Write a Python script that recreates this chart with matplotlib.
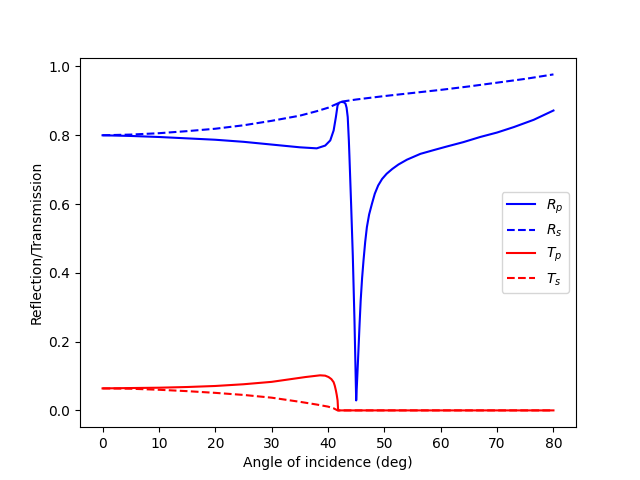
import matplotlib
matplotlib.use("Agg")
import matplotlib.pyplot as plt

# values
angle_rp = [0, 5, 10, 15, 20, 25, 30, 35, 38, 39.5, 40.4, 41.0, 41.4, 41.7, 42.0,
            42.4, 42.8, 43.1, 43.3, 43.5, 43.7, 43.8, 44.1, 44.4, 44.7, 45.0,
            45.2, 45.4, 45.6, 45.8, 46.05, 46.3, 46.6, 46.9, 47.3, 47.8, 48.3,
            48.9, 49.6, 50.4, 51.4, 52.5, 54, 56.4, 59, 61, 64, 67, 70, 73, 76.5, 80]
rp = [0.800, 0.798, 0.795, 0.791, 0.787, 0.781, 0.773, 0.765, 0.762, 0.770, 0.785,
      0.814, 0.853, 0.887, 0.895, 0.897, 0.896, 0.892, 0.880, 0.853, 0.785, 0.740,
      0.60, 0.45, 0.26, 0.029, 0.10, 0.174, 0.25, 0.32, 0.385, 0.436, 0.49, 0.533,
      0.57, 0.601, 0.63, 0.654, 0.673, 0.688, 0.702, 0.715, 0.729, 0.746, 0.758,
      0.767, 0.780, 0.795, 0.808, 0.824, 0.845, 0.872]

angle_rs = [0, 5, 10, 15, 20, 25, 30, 35, 38, 40, 41.8, 42.5, 45, 50, 55, 60, 65, 70, 75, 80]
rs = [0.800, 0.802, 0.806, 0.812, 0.819, 0.829, 0.842, 0.857, 0.870, 0.880, 0.893,
      0.898, 0.904, 0.914, 0.923, 0.932, 0.942, 0.953, 0.964, 0.977]

angle_tp = [0, 5, 10, 15, 20, 25, 30, 33, 36, 38.6, 39.5, 40.1, 40.6, 41.0, 41.2,
            41.4, 41.55, 41.7, 41.8, 50, 60, 70, 80]
tp = [0.064, 0.065, 0.066, 0.068, 0.071, 0.076, 0.083, 0.090, 0.097, 0.102, 0.101,
      0.097, 0.091, 0.082, 0.072, 0.058, 0.045, 0.029, 0.0, 0.0, 0.0, 0.0, 0.0]

angle_ts = [0, 5, 10, 15, 20, 25, 30, 35, 38, 40, 41.0, 41.7, 50, 60, 70, 80]
ts = [0.064, 0.063, 0.060, 0.056, 0.051, 0.045, 0.037, 0.025, 0.017, 0.011, 0.006,
      0.0, 0.0, 0.0, 0.0, 0.0]

fig = plt.figure(figsize=(6.4, 4.8), dpi=100)
plt.plot(angle_rp, rp, 'b-', label='$R_p$')
plt.plot(angle_rs, rs, 'b--', label='$R_s$')
plt.plot(angle_tp, tp, 'r-', label='$T_p$')
plt.plot(angle_ts, ts, 'r--', label='$T_s$')
plt.xlabel('Angle of incidence (deg)')
plt.ylabel('Reflection/Transmission')
plt.legend()
plt.savefig('out.png')
